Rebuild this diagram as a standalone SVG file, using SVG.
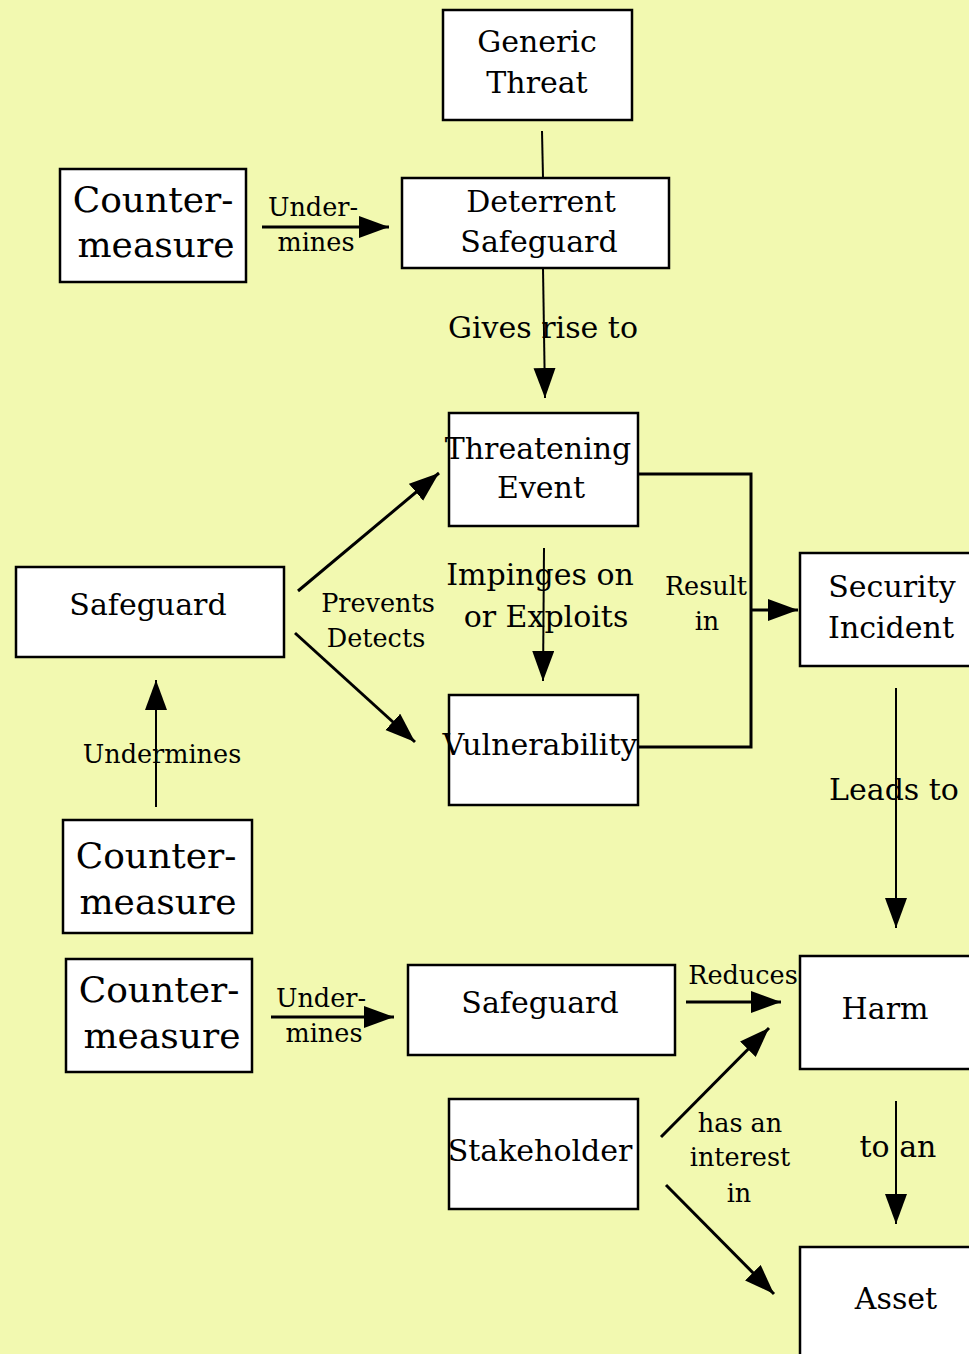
<svg xmlns="http://www.w3.org/2000/svg" width="969" height="1354" viewBox="0 0 969 1354">
<style>
.bg{fill:#f2f9b0}
.box{fill:#ffffff;stroke:#000;stroke-width:2.5}
text{font-family:"DejaVu Serif","Liberation Serif",serif;fill:#000;text-anchor:middle}
.big{font-size:36px}
.med{font-size:30px}
.sm{font-size:25.5px}
.ln{fill:none;stroke:#000;stroke-width:2}
.lnt{fill:none;stroke:#000;stroke-width:3}
</style>
<defs>
<marker id="ah" markerUnits="userSpaceOnUse" markerWidth="32" markerHeight="24" refX="30" refY="11" orient="auto" viewBox="0 0 32 24">
<path d="M0,0 L30,11 L0,22 z" fill="#000"/>
</marker>
</defs>
<rect class="bg" x="0" y="0" width="969" height="1354"/>

<g id="connectors">
<line class="ln" x1="542" y1="131" x2="543" y2="178"/>
<line class="lnt" x1="262" y1="227" x2="389" y2="227" marker-end="url(#ah)"/>
<text class="sm" x="313" y="216">Under-</text>
<text class="sm" x="316" y="251">mines</text>
<line class="ln" x1="543" y1="268" x2="545" y2="398" marker-end="url(#ah)"/>
<text class="med" x="543" y="338">Gives rise to</text>
<line class="lnt" x1="298" y1="591" x2="439" y2="473" marker-end="url(#ah)"/>
<line class="lnt" x1="295" y1="633" x2="415" y2="742" marker-end="url(#ah)"/>
<text class="sm" x="378" y="612">Prevents</text>
<text class="sm" x="376" y="647">Detects</text>
<line class="ln" x1="544" y1="548" x2="543" y2="681" marker-end="url(#ah)"/>
<text class="med" x="540" y="585">Impinges on</text>
<text class="med" x="546" y="627">or Exploits</text>
<polyline class="lnt" points="638,474 751,474 751,747 638,747"/>
<line class="lnt" x1="751" y1="610" x2="798" y2="610" marker-end="url(#ah)"/>
<text class="sm" x="706" y="595">Result</text>
<text class="sm" x="707" y="630">in</text>
<line class="ln" x1="896" y1="688" x2="896" y2="928" marker-end="url(#ah)"/>
<text class="med" x="894" y="800">Leads to</text>
<line class="ln" x1="156" y1="807" x2="156" y2="680" marker-end="url(#ah)"/>
<text class="sm" x="162" y="763">Undermines</text>
<line class="lnt" x1="271" y1="1017" x2="394" y2="1017" marker-end="url(#ah)"/>
<text class="sm" x="321" y="1007">Under-</text>
<text class="sm" x="324" y="1042">mines</text>
<line class="lnt" x1="686" y1="1002" x2="781" y2="1002" marker-end="url(#ah)"/>
<text class="sm" x="743" y="984">Reduces</text>
<line class="lnt" x1="661" y1="1137" x2="769" y2="1028" marker-end="url(#ah)"/>
<line class="lnt" x1="666" y1="1185" x2="774" y2="1294" marker-end="url(#ah)"/>
<text class="sm" x="740" y="1132">has an</text>
<text class="sm" x="740" y="1166">interest</text>
<text class="sm" x="739" y="1202">in</text>
<line class="ln" x1="896" y1="1101" x2="896" y2="1224" marker-end="url(#ah)"/>
<text class="med" x="898" y="1157">to an</text>
</g>

<g id="generic-threat">
<rect class="box" x="443" y="10" width="189" height="110"/>
<text class="med" x="537" y="52">Generic</text>
<text class="med" x="537" y="93">Threat</text>
</g>
<g id="deterrent-safeguard">
<rect class="box" x="402" y="178" width="267" height="90"/>
<text class="med" x="541" y="212">Deterrent</text>
<text class="med" x="539" y="252">Safeguard</text>
</g>
<g id="countermeasure-1">
<rect class="box" x="60" y="169" width="186" height="113"/>
<text class="big" x="153" y="212">Counter-</text>
<text class="big" x="156" y="257">measure</text>
</g>
<g id="threatening-event">
<rect class="box" x="449" y="413" width="189" height="113"/>
<text class="med" x="538" y="459">Threatening</text>
<text class="med" x="541" y="498">Event</text>
</g>
<g id="safeguard-1">
<rect class="box" x="16" y="567" width="268" height="90"/>
<text class="med" x="148" y="615">Safeguard</text>
</g>
<g id="vulnerability">
<rect class="box" x="449" y="695" width="189" height="110"/>
<text class="med" x="540" y="755">Vulnerability</text>
</g>
<g id="security-incident">
<rect class="box" x="800" y="553" width="189" height="113"/>
<text class="med" x="892" y="597">Security</text>
<text class="med" x="891" y="638">Incident</text>
</g>
<g id="countermeasure-2">
<rect class="box" x="63" y="820" width="189" height="113"/>
<text class="big" x="156" y="868">Counter-</text>
<text class="big" x="158" y="914">measure</text>
</g>
<g id="countermeasure-3">
<rect class="box" x="66" y="959" width="186" height="113"/>
<text class="big" x="159" y="1002">Counter-</text>
<text class="big" x="162" y="1048">measure</text>
</g>
<g id="safeguard-2">
<rect class="box" x="408" y="965" width="267" height="90"/>
<text class="med" x="540" y="1013">Safeguard</text>
</g>
<g id="harm">
<rect class="box" x="800" y="956" width="189" height="113"/>
<text class="med" x="885" y="1019">Harm</text>
</g>
<g id="stakeholder">
<rect class="box" x="449" y="1099" width="189" height="110"/>
<text class="med" x="540" y="1161">Stakeholder</text>
</g>
<g id="asset">
<rect class="box" x="800" y="1247" width="189" height="120"/>
<text class="med" x="896" y="1309">Asset</text>
</g>
</svg>
